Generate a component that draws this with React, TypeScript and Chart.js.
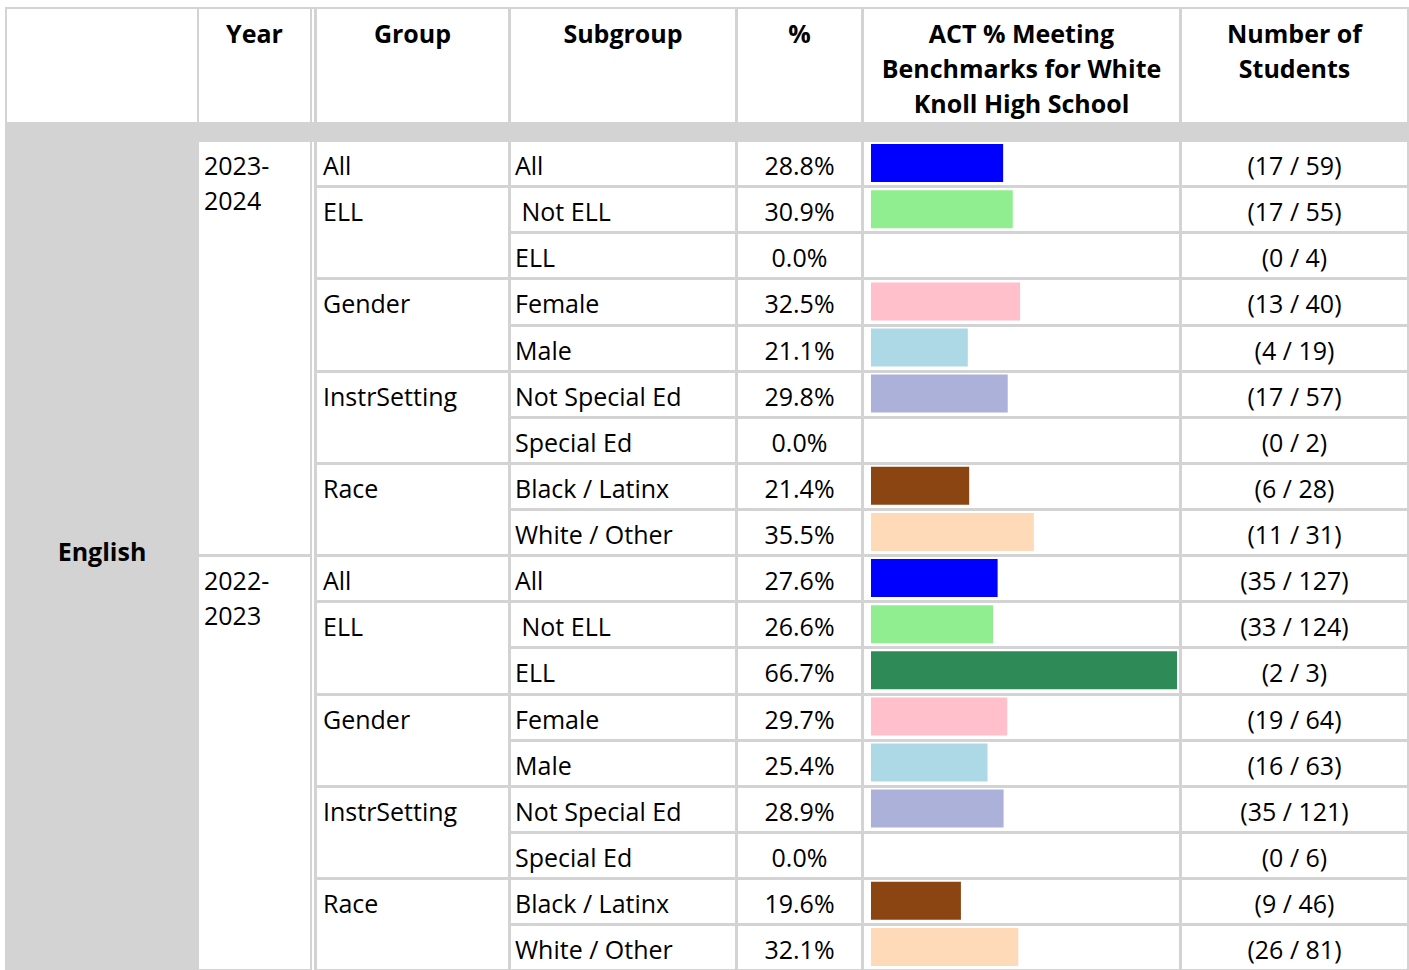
import React, { useEffect, useRef } from "react";
import { Chart, registerables } from "chart.js";

Chart.register(...registerables);

// ---------- data ----------
const subject = "English";
const headers = ["Year", "Group", "Subgroup", "%", "ACT % Meeting Benchmarks for White Knoll High School", "Number of Students"];
const years = ["2023-2024", "2022-2023"];
const groupNames = ["All", "ELL", "Gender", "InstrSetting", "Race"];
const groupSizes = [1, 2, 2, 2, 2];
const subgroups = ["All", " Not ELL", "ELL", "Female", "Male", "Not Special Ed", "Special Ed", "Black / Latinx", "White / Other"];
const subgroupColors = ["#0000ff", "#90ee90", "#2e8b57", "#ffc0cb", "#add8e6", "#abb1d9", "#6a5acd", "#8b4513", "#ffdab9"];
const pct2023_24 = [28.8, 30.9, 0.0, 32.5, 21.1, 29.8, 0.0, 21.4, 35.5];
const pct2022_23 = [27.6, 26.6, 66.7, 29.7, 25.4, 28.9, 0.0, 19.6, 32.1];
const met2023_24 = [17, 17, 0, 13, 4, 17, 0, 6, 11];
const tot2023_24 = [59, 55, 4, 40, 19, 57, 2, 28, 31];
const met2022_23 = [35, 33, 2, 19, 16, 35, 0, 9, 26];
const tot2022_23 = [127, 124, 3, 64, 63, 121, 6, 46, 81];

// ---------- layout ----------
const GRID = "#d3d3d3";
const FONT = "'Open Sans', 'Noto Sans', sans-serif";
const FS = 25;
const LH = 35;
const R0 = 142; // first row interior top
const P = 46.125; // row pitch
const NROWS = 18;
// column interiors [left, right]
const cols: [number, number][] = [
  [7, 197],
  [199, 310],
  [317, 508],
  [511, 735],
  [738, 861],
  [864, 1179],
  [1182, 1407],
];
const vlines: [number, number][] = [
  [5, 2],
  [197, 2],
  [310, 2],
  [314, 3],
  [508, 3],
  [735, 3],
  [861, 3],
  [1179, 3],
  [1407, 2],
];

const rowTop = (k: number) => R0 + P * k;

export default function App() {
  const ref = useRef<HTMLCanvasElement>(null);

  const allPct = [...pct2023_24, ...pct2022_23];
  const allColors = [...subgroupColors, ...subgroupColors];
  const allLabels = [...subgroups, ...subgroups];
  const allMet = [...met2023_24, ...met2022_23];
  const allTot = [...tot2023_24, ...tot2022_23];

  useEffect(() => {
    if (!ref.current) return;
    const chart = new Chart(ref.current, {
      type: "bar",
      data: {
        labels: allLabels.map((l, i) => `${i}-${l}`),
        datasets: [
          {
            data: allPct,
            backgroundColor: allColors,
            borderWidth: 0,
            categoryPercentage: 1,
            barPercentage: 38 / 46.125,
          },
        ],
      },
      options: {
        indexAxis: "y",
        responsive: false,
        maintainAspectRatio: false,
        animation: false,
        layout: { padding: 0 },
        scales: {
          x: { display: false, min: 0, max: Math.max(...allPct) },
          y: { display: false },
        },
        plugins: { legend: { display: false }, tooltip: { enabled: false } },
      },
    });
    return () => chart.destroy();
  }, []);

  const els: React.ReactNode[] = [];
  let key = 0;
  const rect = (x: number, y: number, w: number, h: number, c: string) =>
    els.push(<div key={key++} style={{ position: "absolute", left: x, top: y, width: w, height: h, background: c }} />);

  // top border
  rect(5, 7, 1404, 2, GRID);
  // gray band under header
  rect(5, 122, 1404, 20, GRID);
  // subject column gray
  rect(5, 122, 194, 970 - 122, GRID);
  // vertical lines
  vlines.forEach(([x, w]) => rect(x, 7, w, 970 - 7, GRID));

  // horizontal lines per column
  const hline = (c: number, endRow: number) => {
    const y = rowTop(endRow + 1) - 3;
    const [l, r] = cols[c];
    rect(l, y, r - l, 3, GRID);
  };
  // year column
  years.forEach((_, yi) => hline(1, yi * 9 + 8));
  // group column
  years.forEach((_, yi) => {
    let s = yi * 9;
    groupSizes.forEach((g) => {
      hline(2, s + g - 1);
      s += g;
    });
  });
  // other columns
  for (let k = 0; k < NROWS; k++) [3, 4, 5, 6].forEach((c) => hline(c, k));

  const text = (
    t: string,
    left: number,
    top: number,
    width: number | undefined,
    align: "left" | "center",
    bold = false
  ) =>
    els.push(
      <div
        key={key++}
        style={{
          position: "absolute",
          left,
          top,
          width,
          textAlign: align,
          fontFamily: FONT,
          fontSize: FS,
          lineHeight: `${LH}px`,
          fontWeight: bold ? 700 : 400,
          whiteSpace: "pre",
          color: "#000",
        }}
      >
        {t}
      </div>
    );

  // headers
  const hdrLines = [["Year"], ["Group"], ["Subgroup"], ["%"], ["ACT % Meeting", "Benchmarks for White", "Knoll High School"], ["Number of", "Students"]];
  hdrLines.forEach((lines, i) => {
    const [l, r] = cols[i + 1];
    text(lines.join("\n"), l, 15.5, r - l, "center", true);
  });
  void headers;

  // subject
  text(subject, cols[0][0], 551 - LH / 2, cols[0][1] - cols[0][0], "center", true);

  const off = 6;
  years.forEach((y, yi) => {
    const base = yi * 9;
    const parts = y.split("-");
    text(parts[0] + "-\n" + parts[1], 204, rowTop(base) + off, undefined, "left");
    let s = base;
    groupNames.forEach((g, gi) => {
      text(g, 323, rowTop(s) + off, undefined, "left");
      s += groupSizes[gi];
    });
  });
  for (let k = 0; k < NROWS; k++) {
    text(allLabels[k], 515, rowTop(k) + off, undefined, "left");
    text(allPct[k].toFixed(1) + "%", cols[4][0], rowTop(k) + off, cols[4][1] - cols[4][0], "center");
    text(`(${allMet[k]} / ${allTot[k]})`, cols[6][0], rowTop(k) + off, cols[6][1] - cols[6][0], "center");
  }

  return (
    <div style={{ position: "fixed", left: 0, top: 0, width: 1409, height: 970, overflow: "hidden", background: "#fff" }}>
      {els}
      <canvas
        ref={ref}
        width={306}
        height={830}
        style={{ position: "absolute", left: 871, top: 140, width: 306, height: 830 }}
      />
    </div>
  );
}
